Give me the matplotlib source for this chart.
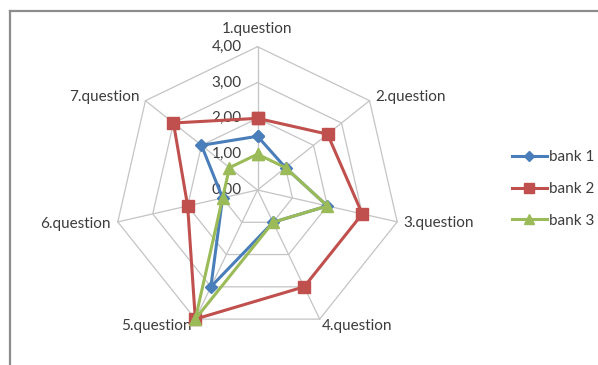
import numpy as np
import matplotlib
matplotlib.use("Agg")
import matplotlib.pyplot as plt
from matplotlib.lines import Line2D

plt.rcParams['font.family'] = ['Lato', 'DejaVu Sans']

questions = ["1.question", "2.question", "3.question", "4.question",
             "5.question", "6.question", "7.question"]
bank1 = [1.5, 1.0, 2.0, 1.0, 3.0, 1.0, 2.0]
bank2 = [2.0, 2.5, 3.0, 3.0, 4.0, 2.0, 3.0]
bank3 = [1.0, 1.0, 2.0, 1.0, 4.0, 1.0, 1.0]
series_names = ["bank 1", "bank 2", "bank 3"]
ring_values = [0, 1, 2, 3, 4]

W, H = 598, 365
fig = plt.figure(figsize=(W / 100, H / 100), dpi=100)

cx, cy, R = 257.5, 190.0, 143.3
ax = fig.add_axes([(cx - R) / W, (H - cy - R) / H, 2 * R / W, 2 * R / H],
                  projection='polar')
ax.set_theta_offset(np.pi / 2)
ax.set_theta_direction(-1)
ax.set_ylim(0, 4)
ax.grid(False)
ax.spines['polar'].set_visible(False)
ax.patch.set_visible(False)
ax.set_xticks([])
ax.set_yticks([])

n = len(questions)
theta = np.arange(n) * 2 * np.pi / n
theta_closed = np.append(theta, theta[0])

grid_col = '#c4c4c4'
for r in ring_values[1:]:
    ax.plot(theta_closed, [r] * (n + 1), color=grid_col, lw=0.9,
            zorder=1, clip_on=False)
for t in theta:
    ax.plot([t, t], [0, ring_values[-1]], color=grid_col, lw=0.9,
            zorder=1, clip_on=False)

text_col = '#3c3c3c'
fs = 11
for r in ring_values:
    ax.annotate(f"{r:.2f}".replace('.', ','), xy=(0, r),
                xytext=(-16, 0), textcoords='offset pixels',
                ha='right', va='center', fontsize=fs, color=text_col,
                zorder=2)

label_offsets = [(0, 18, 'center'), (6, 4, 'left'), (6, -1, 'left'),
                 (2, -7, 'left'), (-4, -7, 'right'), (-7, -2, 'right'),
                 (-6, 4, 'right')]
for t, q, (dx, dy, ha) in zip(theta, questions, label_offsets):
    ax.annotate(q, xy=(t, 4), xytext=(dx, dy), textcoords='offset pixels',
                ha=ha, va='center', fontsize=fs, color=text_col)

styles = [
    dict(color='#4a7ebb', marker='D', markersize=6.5),
    dict(color='#c0504d', marker='s', markersize=8.5),
    dict(color='#9bbb59', marker='^', markersize=8.5),
]
handles = []
for vals, name, st in zip([bank1, bank2, bank3], series_names, styles):
    v = np.append(vals, vals[0])
    h, = ax.plot(theta_closed, v, lw=2.2, color=st['color'],
                 marker=st['marker'], markersize=st['markersize'],
                 markerfacecolor=st['color'], markeredgecolor=st['color'],
                 label=name, zorder=3, clip_on=False)
    handles.append(h)

fig.legend(handles=handles, loc='center left',
           bbox_to_anchor=(511.5 / W, 1 - 189.0 / H),
           frameon=False, fontsize=fs, handlelength=2.3,
           handletextpad=0.15, labelspacing=1.15, borderpad=0,
           borderaxespad=0, numpoints=1, markerscale=0.8,
           labelcolor=text_col)

# partial outer frame
frame_col = '#8c8c8c'
fig.add_artist(Line2D([10 / W, 1.0], [1 - 11 / H, 1 - 11 / H],
                      transform=fig.transFigure, color=frame_col, lw=1.6))
fig.add_artist(Line2D([10 / W, 10 / W], [0, 1 - 11 / H],
                      transform=fig.transFigure, color=frame_col, lw=1.6))

fig.savefig('out.png', dpi=100)
